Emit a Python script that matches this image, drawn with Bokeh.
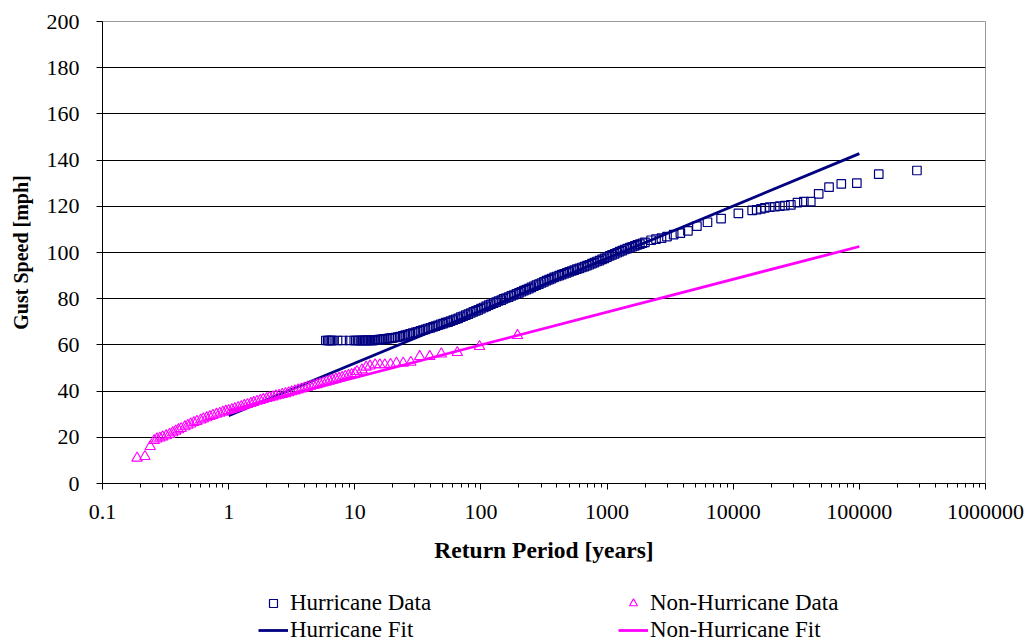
from bokeh.plotting import figure
from bokeh.layouts import column
from bokeh.models import (Range1d, FixedTicker, CustomJSTickFormatter, Legend,
                          LegendItem)
from bokeh.core.properties import value
from bokeh.embed import file_html
from bokeh.resources import INLINE

# ---------------- data ----------------
hurr_T = [5.9, 6.1, 6.25, 6.4, 6.55, 6.7, 7.3, 8.0, 9.1, 9.9, 10.2, 10.5, 10.8,
          11.1, 11.4, 11.7, 12.0, 12.3, 12.6, 13.0, 13.4, 13.8, 14.2, 14.6,
          15.0, 15.5, 16.0, 16.5, 17.0, 17.6, 18.2, 18.8, 19.4,
          20.0, 20.9, 21.9, 22.9, 24.0, 25.1, 26.3, 27.5, 28.8, 30.2,
          31.6, 33.1, 34.7, 36.3, 38.0, 39.8, 41.7, 43.7, 45.7, 47.9,
          50.1, 52.5, 55.0, 57.5, 60.3, 63.1, 66.1, 69.2, 72.4, 75.9,
          79.4, 83.2, 87.1, 91.2, 95.5, 100, 105, 110, 115, 120,
          126, 132, 138, 145, 151, 158, 166, 174, 182, 191,
          200, 209, 219, 229, 240, 251, 263, 275, 288, 302,
          316, 331, 347, 363, 380, 398, 417, 437, 457, 479,
          501, 525, 550, 575, 603, 631, 661, 692, 724, 759,
          794, 832, 871, 912, 955, 1000, 1047, 1096, 1148, 1202,
          1259, 1318, 1380, 1445, 1514, 1585, 1660, 1738, 1820, 1905,
          1995, 2234, 2443, 2698, 2985, 3373, 3811, 4375, 5152, 6252,
          8017, 10990, 14130, 15350, 16600, 17780, 19500, 21380, 23440,
          25700, 28640, 32300, 36300, 41200, 47600, 57500, 71900, 95500,
          142500, 286000]
hurr_V = [61.9, 61.9, 61.9, 61.9, 61.9, 61.9, 61.9, 61.9, 61.9, 61.9, 61.9,
          61.9, 61.9, 61.9, 61.9, 61.9, 62.0, 62.0, 62.0, 62.0, 62.0, 62.0,
          62.0, 62.1, 62.2, 62.3, 62.3, 62.4, 62.5, 62.6, 62.7, 62.8, 62.9,
          63.0, 63.2, 63.4, 63.6, 63.9, 64.2, 64.5, 64.8, 65.1, 65.4,
          65.7, 66.1, 66.4, 66.7, 67.1, 67.4, 67.8, 68.1, 68.5, 68.9,
          69.2, 69.6, 69.9, 70.3, 70.7, 71.1, 71.5, 72.0, 72.4, 72.9,
          73.3, 73.8, 74.3, 74.7, 75.2, 75.7, 76.2, 76.7, 77.2, 77.6,
          78.1, 78.5, 79.0, 79.4, 79.9, 80.3, 80.7, 81.2, 81.6, 82.1,
          82.5, 83.0, 83.5, 83.9, 84.4, 84.9, 85.4, 85.9, 86.3, 86.8,
          87.3, 87.8, 88.3, 88.7, 89.2, 89.6, 90.0, 90.4, 90.8, 91.2,
          91.6, 92.0, 92.4, 92.8, 93.1, 93.5, 93.9, 94.3, 94.7, 95.2,
          95.6, 96.1, 96.5, 97.0, 97.5, 98.0, 98.5, 99.0, 99.4, 99.9,
          100.4, 100.8, 101.3, 101.7, 102.1, 102.5, 102.9, 103.3, 103.6, 104.0,
          104.4, 105.3, 105.8, 106.2, 106.9, 107.7, 108.4, 109.4, 111.4, 113.1,
          114.7, 116.9, 118.2, 118.5, 118.9, 119.3, 119.6, 119.8, 120.1,
          120.3, 120.6, 121.6, 122.0, 122.0, 125.4, 128.3, 129.7, 130.0,
          133.9, 135.5]

nonhurr_T = [0.188, 0.217, 0.239, 0.257,
             0.27, 0.285, 0.30, 0.32, 0.34, 0.36, 0.38, 0.40, 0.42, 0.45,
             0.475, 0.50, 0.53, 0.56, 0.60, 0.63, 0.67, 0.71, 0.75, 0.80,
             0.85, 0.90, 0.95, 1.0, 1.06, 1.12, 1.19, 1.26, 1.33, 1.41,
             1.5, 1.58, 1.68, 1.78, 1.88, 2.0, 2.11, 2.24, 2.37, 2.51,
             2.66, 2.82, 2.99, 3.16, 3.35, 3.55, 3.76, 3.98, 4.22, 4.47,
             4.73, 5.01, 5.31, 5.62, 5.96, 6.31, 6.68, 7.08, 7.5, 7.94,
             8.41, 8.91, 9.44, 10.0,
             10.4, 11.4, 12.3, 13.2, 14.5, 15.8, 17.3, 19.2, 21.4, 24.2,
             27.8, 32.7, 39.3, 48.5, 65.0, 97.5, 195.0]
nonhurr_V = [11.0, 11.7, 16.0, 18.6,
             19.3, 19.7, 20.2, 20.7, 21.3, 22.0, 22.7, 23.3, 23.8, 24.6,
             25.2, 25.8, 26.4, 26.9, 27.5, 28.0, 28.5, 29.0, 29.5, 30.0,
             30.4, 30.9, 31.3, 31.6, 32.0, 32.4, 32.9, 33.3, 33.8, 34.2,
             34.7, 35.1, 35.6, 36.0, 36.4, 36.8, 37.2, 37.5, 37.9, 38.2,
             38.6, 38.9, 39.3, 39.7, 40.1, 40.5, 40.9, 41.3, 41.7, 42.1,
             42.5, 42.8, 43.2, 43.6, 44.0, 44.4, 44.8, 45.2, 45.6, 46.0,
             46.4, 46.8, 47.2, 47.6,
             48.5, 49.2, 50.4, 50.9, 51.4, 51.4, 51.4, 51.6, 52.1, 52.1,
             52.5, 55.0, 55.0, 56.1, 56.7, 59.3, 64.1]

fit_T = [1, 100000]
hurr_fit_V = [29.4, 142.8]
nonhurr_fit_V = [31.6, 102.6]

x_ticks = [0.1, 1, 10, 100, 1000, 10000, 100000, 1000000]
y_ticks = [0, 20, 40, 60, 80, 100, 120, 140, 160, 180, 200]

NAVY = "#000080"
MAGENTA = "#FF00FF"
FONT = "Liberation Serif"

HD_STYLE = dict(marker="square", size=8.5, fill_color=None,
                line_color=NAVY, line_width=1.2)
ND_STYLE = dict(marker="triangle", size=10.5, fill_color=None,
                line_color=MAGENTA, line_width=1.1)
HF_STYLE = dict(line_color=NAVY, line_width=2.8)
NF_STYLE = dict(line_color=MAGENTA, line_width=2.8)

# ---------------- main chart ----------------
p = figure(width=1030, height=580, x_axis_type="log",
           x_range=Range1d(0.1, 1000000), y_range=Range1d(0, 200),
           output_backend="svg", toolbar_location=None,
           min_border_left=102, min_border_right=45,
           min_border_top=21, min_border_bottom=97)
p.background_fill_color = "white"
p.border_fill_color = "white"
p.outline_line_color = "#999999"
p.outline_line_width = 1

p.xgrid.grid_line_color = None
p.ygrid.ticker = FixedTicker(ticks=y_ticks[1:-1])
p.ygrid.grid_line_color = "black"
p.ygrid.grid_line_width = 1

minor = []
for d in x_ticks[:-1]:
    for m in range(2, 10):
        minor.append(d * m)
p.xaxis.ticker = FixedTicker(ticks=x_ticks, minor_ticks=minor)
p.xaxis.formatter = CustomJSTickFormatter(
    code="return tick < 1 ? tick.toFixed(1) : tick.toFixed(0);")
p.yaxis.ticker = FixedTicker(ticks=y_ticks)

for ax in (p.xaxis, p.yaxis):
    ax.axis_line_color = "black"
    ax.axis_line_width = 1
    ax.major_tick_line_color = "black"
    ax.major_tick_in = 0
    ax.major_tick_out = 6
    ax.major_label_text_font = FONT
    ax.major_label_text_font_size = "22px"
    ax.major_label_text_color = "black"
    ax.axis_label_text_font = FONT
    ax.axis_label_text_font_style = "bold"
    ax.axis_label_text_color = "black"

p.xaxis.axis_label_text_font_size = "23.5px"
p.yaxis.axis_label_text_font_size = "20px"
p.xaxis.minor_tick_line_color = "black"
p.xaxis.minor_tick_in = 0
p.xaxis.minor_tick_out = 4
p.yaxis.minor_tick_line_color = None
p.xaxis.major_label_standoff = 15
p.yaxis.major_label_standoff = 17
p.xaxis.axis_label = "Return Period [years]"
p.yaxis.axis_label = "Gust Speed [mph]"
p.xaxis.axis_label_standoff = 15
p.yaxis.axis_label_standoff = 12

r_hd = p.scatter(hurr_T, hurr_V, **HD_STYLE)
r_hf = p.line(fit_T, hurr_fit_V, **HF_STYLE)
r_nd = p.scatter(nonhurr_T, nonhurr_V, **ND_STYLE)
r_nf = p.line(fit_T, nonhurr_fit_V, **NF_STYLE)

# ---------------- legend strip (2 x 2 grid under the chart) ----------------
# The strip's ranges exclude the series values, so its renderers only
# supply the legend swatches.
lf = figure(width=1030, height=64, x_range=Range1d(0, 1), y_range=Range1d(0, 1),
            output_backend="svg", toolbar_location=None,
            x_axis_location=None, y_axis_location=None,
            min_border_left=0, min_border_right=0,
            min_border_top=0, min_border_bottom=0)
lf.outline_line_color = None
lf.grid.grid_line_color = None
lf.background_fill_color = "white"
lf.border_fill_color = "white"
e_hd = lf.scatter(hurr_T[:1], hurr_V[:1], **HD_STYLE)
e_nd = lf.scatter(nonhurr_T[:1], nonhurr_V[:1], **ND_STYLE)
e_hf = lf.line(fit_T, hurr_fit_V, **HF_STYLE)
e_nf = lf.line(fit_T, nonhurr_fit_V, **NF_STYLE)

legend = Legend(items=[
    LegendItem(label=value("Hurricane Data"), renderers=[e_hd]),
    LegendItem(label=value("Non-Hurricane Data"), renderers=[e_nd]),
    LegendItem(label=value("Hurricane Fit"), renderers=[e_hf]),
    LegendItem(label=value("Non-Hurricane Fit"), renderers=[e_nf]),
], orientation="horizontal", ncols=2, location=(156, 1))
legend.border_line_color = None
legend.background_fill_alpha = 0
legend.padding = 0
legend.margin = 0
legend.spacing = 1
legend.glyph_width = 30
legend.glyph_height = 20
legend.label_height = 20
legend.label_width = 327
legend.label_standoff = 2
legend.label_text_font = FONT
legend.label_text_font_size = "23px"
legend.label_text_color = "black"
lf.add_layout(legend)

open("out.html", "w").write(file_html(column(p, lf, spacing=0), INLINE))
